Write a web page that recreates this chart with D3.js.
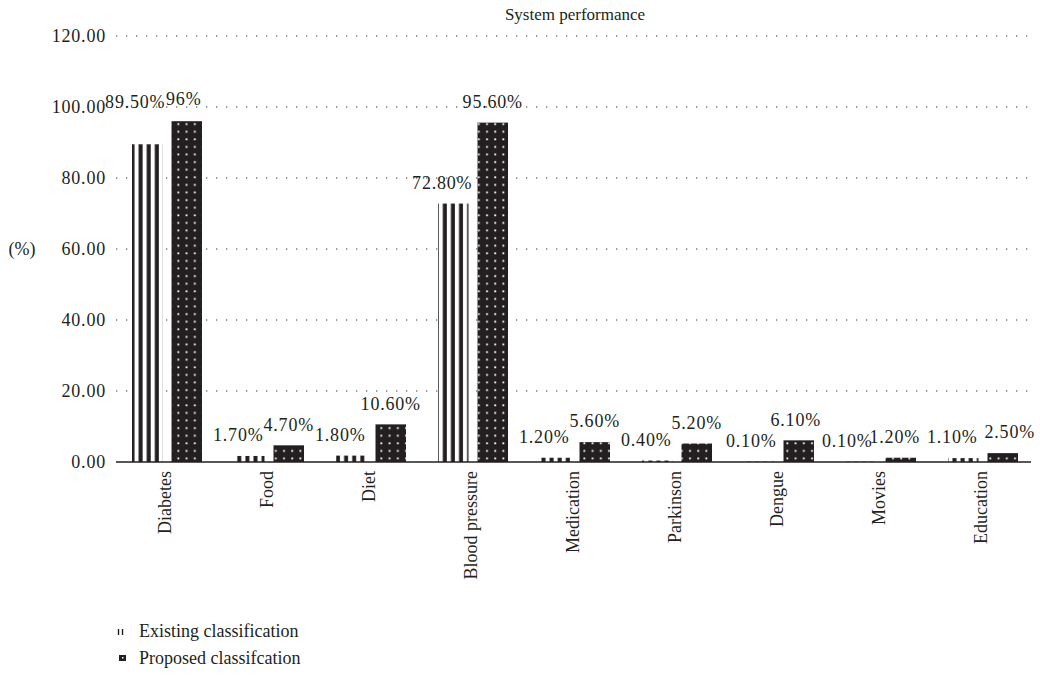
<!DOCTYPE html>
<html>
<head>
<meta charset="utf-8">
<script src="https://cdn.jsdelivr.net/npm/d3@7"></script>
<style>
  html, body { margin: 0; padding: 0; background: #fff; }
  svg text { font-family: "Liberation Serif", "Times New Roman", serif; fill: #231f20; }
</style>
</head>
<body>
<svg id="chart" width="1040" height="675" font-family="Liberation Serif, serif"></svg>
<script>
// Categories and the two series (percent)
const categories = ["Diabetes", "Food", "Diet", "Blood pressure", "Medication",
                    "Parkinson", "Dengue", "Movies", "Education"];
const existing = [89.5, 1.7, 1.8, 72.8, 1.2, 0.4, 0.1, 0.1, 1.1];
const proposed = [96, 4.7, 10.6, 95.6, 5.6, 5.2, 6.1, 1.2, 2.5];
const existingLabels = ["89.50%", "1.70%", "1.80%", "72.80%", "1.20%", "0.40%", "0.10%", "0.10%", "1.10%"];
const proposedLabels = ["96%", "4.70%", "10.60%", "95.60%", "5.60%", "5.20%", "6.10%", "1.20%", "2.50%"];
const seriesNames = ["Existing classification", "Proposed classifcation"];
const yTicks = [0, 20, 40, 60, 80, 100, 120];

const ink = "#231f20";
const serif = "'Liberation Serif', 'Times New Roman', serif";
const svg = d3.select("#chart");
const defs = svg.append("defs");

const x0 = d3.scaleBand().domain(categories).range([116, 1034]);
const x1 = d3.scaleBand().domain([0, 1]).range([0, x0.bandwidth()])
  .paddingInner(0.228).paddingOuter(0.405);
const y = d3.scaleLinear().domain([0, 120]).range([462, 36]);

function label(sel, size) {
  return sel.style("font-family", serif).style("font-size", size + "px").attr("fill", ink);
}

// Title
label(svg.append("text"), 17).attr("x", 575).attr("y", 14).attr("dy", "0.35em")
  .attr("text-anchor", "middle").text("System performance");

// Dotted gridlines and tick labels
svg.append("g").selectAll("line").data(yTicks.filter(d => d > 0)).join("line")
  .attr("x1", 116).attr("x2", 1031)
  .attr("y1", d => y(d)).attr("y2", d => y(d))
  .attr("stroke", "#77787b").attr("stroke-width", 1.3)
  .attr("stroke-dasharray", "1.3,8.7");
label(svg.append("g").selectAll("text").data(yTicks).join("text"), 18)
  .attr("x", 106).attr("y", d => y(d)).attr("dy", "0.35em")
  .attr("text-anchor", "end").style("letter-spacing", "0.8px")
  .text(d => d3.format(".2f")(d));
label(svg.append("text"), 18).attr("x", 22).attr("y", y(60)).attr("dy", "0.35em")
  .attr("text-anchor", "middle").text("(%)");

// Fill patterns: vertical stripes for the existing series, dotted dark fill for the proposed one
function stripePattern(id, bx) {
  const p = defs.append("pattern").attr("id", id).attr("patternUnits", "userSpaceOnUse")
    .attr("x", bx).attr("y", 0).attr("width", 8.1).attr("height", 10);
  p.append("rect").attr("width", 8.1).attr("height", 10).attr("fill", "#fff");
  p.append("rect").attr("x", 4).attr("width", 4).attr("height", 10).attr("fill", ink);
}
function dotPattern(id, bx) {
  const p = defs.append("pattern").attr("id", id).attr("patternUnits", "userSpaceOnUse")
    .attr("x", bx).attr("y", y(0)).attr("width", 8.2).attr("height", 7.6);
  p.append("rect").attr("width", 8.2).attr("height", 7.6).attr("fill", ink);
  p.append("rect").attr("x", 4.8).attr("y", 3.2).attr("width", 1.8).attr("height", 1.8).attr("fill", "#fff");
}

const rows = categories.map((c, i) => ({ c, i, vals: [existing[i], proposed[i]],
  labels: [existingLabels[i], proposedLabels[i]] }));

const groups = svg.append("g").selectAll("g").data(rows).join("g")
  .attr("transform", d => `translate(${x0(d.c)},0)`);

groups.each(function (d) {
  const g = d3.select(this);
  d.vals.forEach((v, s) => {
    const bx = x0(d.c) + x1(s);
    const id = `fill-${s}-${d.i}`;
    if (s === 0) stripePattern(id, bx); else dotPattern(id, bx);
    g.append("rect")
      .attr("x", x1(s)).attr("width", x1.bandwidth())
      .attr("y", y(v)).attr("height", y(0) - y(v))
      .attr("fill", `url(#${id})`);
  });
});

// Value labels above bars (existing labels sit slightly left of their bar)
const existShift = [[-12, -22], [-11, 0], [-11, 0], [-11, 0], [-11, 0], [-11, 0], [-8, 0], [-14, 0], [-11, 0]];
const propShift = [[-3, -2], [0, 0], [0, 0], [0, 0], [0, 0], [0, 0], [-3, 0], [-6, 0], [7, 0]];
groups.each(function (d) {
  const g = d3.select(this);
  d.vals.forEach((v, s) => {
    const sh = s === 0 ? existShift[d.i] : propShift[d.i];
    label(g.append("text"), 18)
      .attr("x", x1(s) + x1.bandwidth() / 2 + sh[0])
      .attr("y", y(v) - 21 + sh[1]).attr("dy", "0.35em")
      .attr("text-anchor", "middle").style("letter-spacing", "0.8px")
      .text(d.labels[s]);
  });
});

// Baseline
svg.append("line").attr("x1", 116).attr("x2", 1031).attr("y1", y(0)).attr("y2", y(0))
  .attr("stroke", ink).attr("stroke-width", 1.5);

// Category labels, rotated
label(svg.append("g").selectAll("text").data(categories).join("text"), 18)
  .attr("transform", d => `translate(${x0(d) + x0.bandwidth() / 2 - 2},471) rotate(-90)`)
  .attr("dy", "0.35em").attr("text-anchor", "end")
  .text(d => d);

// Legend
const legend = svg.append("g");
const ly = [631, 658];
label(legend.selectAll("text").data(seriesNames).join("text"), 18)
  .attr("x", 139).attr("y", (d, i) => ly[i]).attr("dy", "0.35em")
  .text(d => d);
legend.selectAll("line.tick").data([118.5, 122.5]).join("line").attr("class", "tick")
  .attr("x1", d => d).attr("x2", d => d).attr("y1", ly[0] - 2).attr("y2", ly[0] + 4)
  .attr("stroke", ink).attr("stroke-width", 1.4);
legend.append("rect").attr("x", 119).attr("y", ly[1] - 3).attr("width", 7).attr("height", 6).attr("fill", ink);
legend.append("rect").attr("x", 122).attr("y", ly[1] - 1).attr("width", 1.5).attr("height", 1.5).attr("fill", "#fff");
</script>
</body>
</html>
